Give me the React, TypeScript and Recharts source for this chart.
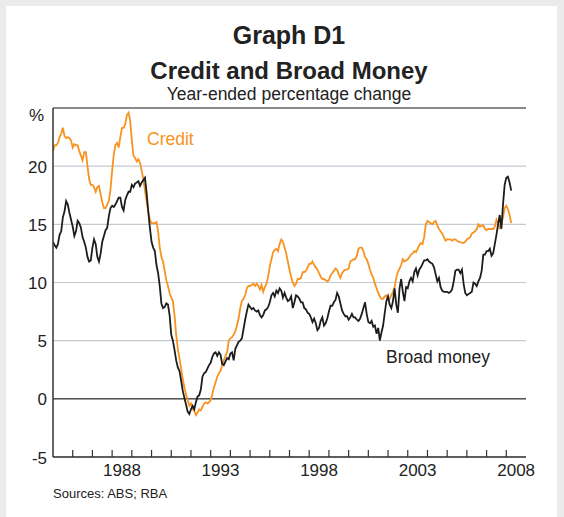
import { LineChart, Line, XAxis, YAxis, CartesianGrid, ReferenceLine } from 'recharts';

// Monthly, year-ended % change, starting January 1985
const START_YEAR = 1985;

const creditValues = [
  21.3, 21.8, 21.8, 22.0, 22.5, 22.8, 23.3, 22.6, 22.4, 22.5, 22.4, 22.2, // 1985
  21.6, 21.9, 21.8, 21.8, 21.3, 20.9, 20.5, 21.2, 21.2, 20.0, 18.9, 18.4, // 1986
  18.4, 18.2, 17.8, 18.2, 18.3, 17.6, 16.9, 16.4, 16.4, 16.7, 17.0, 18.0, // 1987
  19.6, 21.0, 21.8, 22.0, 21.6, 22.5, 23.3, 23.3, 23.6, 24.4, 24.6, 23.9, // 1988
  22.2, 20.9, 20.7, 20.4, 20.6, 20.3, 19.6, 18.9, 17.9, 17.0, 16.1, 15.4, // 1989
  15.1, 15.1, 15.1, 15.2, 14.4, 13.0, 12.2, 11.8, 11.0, 10.2, 9.7, 9.1, // 1990
  8.7, 8.4, 7.2, 5.5, 4.3, 3.5, 2.6, 1.7, 1.0, 0.4, -0.1, -0.6, // 1991
  -0.4, -0.9, -1.0, -1.4, -1.2, -0.9, -1.0, -0.7, -0.4, -0.3, -0.4, -0.3, // 1992
  -0.1, 0.4, 1.0, 1.4, 1.9, 2.2, 2.4, 2.9, 3.3, 3.7, 4.0, 5.0, // 1993
  5.2, 5.3, 5.5, 5.8, 6.3, 6.9, 7.8, 8.4, 8.6, 8.9, 9.5, 9.7, // 1994
  9.7, 9.8, 9.9, 9.7, 9.9, 9.7, 9.4, 9.8, 9.2, 9.6, 9.9, 10.5, // 1995
  11.4, 12.0, 12.6, 12.8, 12.9, 12.7, 13.3, 13.7, 13.5, 13.0, 12.5, 11.8, // 1996
  11.1, 10.5, 10.0, 9.7, 9.9, 10.3, 10.3, 10.4, 10.9, 10.9, 11.0, 11.3, // 1997
  11.6, 11.6, 11.8, 11.5, 11.3, 11.1, 10.8, 10.5, 10.3, 10.3, 10.2, 10.1, // 1998
  10.2, 10.6, 10.8, 11.0, 11.2, 11.1, 10.7, 10.4, 10.8, 11.0, 11.1, 11.1, // 1999
  11.2, 11.8, 11.9, 12.0, 12.0, 12.3, 12.9, 13.0, 13.0, 12.7, 12.2, 12.0, // 2000
  11.6, 11.1, 10.7, 10.4, 9.9, 9.5, 9.1, 8.8, 8.6, 8.6, 8.8, 8.9, // 2001
  8.6, 8.6, 8.9, 9.2, 9.6, 10.4, 10.9, 11.2, 11.5, 12.0, 11.8, 11.9, // 2002
  12.0, 12.2, 12.4, 12.5, 12.7, 12.6, 12.9, 13.2, 13.4, 13.3, 13.9, 15.0, // 2003
  15.3, 15.2, 15.1, 15.0, 15.2, 15.3, 14.9, 14.6, 14.4, 14.2, 13.9, 13.6, // 2004
  13.7, 13.7, 13.7, 13.6, 13.7, 13.7, 13.6, 13.5, 13.5, 13.4, 13.4, 13.5, // 2005
  13.7, 13.8, 13.9, 14.2, 14.3, 14.4, 14.6, 15.0, 14.8, 14.9, 14.9, 14.6, // 2006
  14.5, 14.6, 14.6, 14.6, 14.6, 14.8, 15.4, 15.1, 14.7, 15.0, 15.6, 16.4, // 2007
  16.6, 16.3, 15.8, 15.1, // 2008
];

const broadMoneyValues = [
  13.5, 13.2, 13.0, 13.3, 14.1, 14.4, 15.6, 16.1, 17.0, 16.7, 16.0, 15.4, // 1985
  14.8, 14.0, 14.4, 15.3, 15.1, 14.7, 13.9, 13.5, 13.0, 12.2, 11.8, 11.9, // 1986
  13.0, 13.7, 13.3, 12.2, 11.8, 12.5, 13.5, 14.0, 14.5, 14.7, 15.7, 16.4, // 1987
  16.6, 16.5, 16.7, 17.0, 17.3, 17.3, 16.5, 16.2, 17.1, 17.5, 17.8, 17.8, // 1988
  18.4, 18.2, 18.5, 18.6, 18.7, 18.3, 18.6, 18.8, 19.0, 17.7, 16.1, 14.7, // 1989
  13.5, 13.0, 12.7, 11.5, 10.8, 9.7, 8.2, 7.8, 7.9, 8.2, 8.1, 7.2, // 1990
  5.5, 5.0, 4.2, 3.3, 2.7, 2.4, 1.6, 0.7, 0.1, -0.5, -1.1, -1.3, // 1991
  -0.9, -0.6, -0.9, -0.3, 0.2, 0.3, 0.8, 1.9, 2.2, 2.3, 2.6, 2.9, // 1992
  3.1, 3.6, 3.9, 4.0, 3.7, 4.0, 3.8, 3.0, 2.9, 3.2, 3.5, 3.4, // 1993
  3.9, 4.0, 3.3, 4.3, 4.6, 4.9, 5.0, 5.2, 6.0, 6.8, 7.5, 8.1, // 1994
  7.9, 7.7, 7.8, 7.6, 7.5, 7.6, 7.2, 7.0, 7.2, 7.6, 7.7, 7.9, // 1995
  8.3, 8.9, 9.1, 8.8, 9.3, 9.1, 9.5, 9.3, 8.7, 9.1, 8.7, 8.4, // 1996
  8.5, 8.8, 7.8, 8.3, 8.9, 8.8, 8.6, 8.3, 8.3, 7.8, 7.7, 7.4, // 1997
  7.3, 7.0, 6.6, 6.9, 6.5, 5.9, 6.1, 6.7, 7.0, 6.3, 6.5, 6.9, // 1998
  7.5, 8.0, 8.0, 8.3, 8.5, 9.1, 8.8, 8.2, 7.6, 7.3, 7.1, 7.1, // 1999
  6.8, 7.0, 7.3, 7.0, 7.0, 6.8, 6.7, 6.9, 7.3, 7.8, 8.3, 7.3, // 2000
  6.6, 6.5, 6.7, 6.2, 6.3, 5.6, 6.1, 5.0, 5.7, 6.3, 7.4, 8.4, // 2001
  8.8, 8.1, 7.8, 8.4, 9.5, 8.1, 7.4, 9.5, 10.3, 9.2, 8.4, 9.6, // 2002
  9.5, 10.1, 10.4, 10.1, 10.9, 11.2, 10.6, 11.1, 11.3, 11.6, 11.9, 11.9, // 2003
  12.0, 11.8, 11.7, 11.6, 11.3, 10.7, 10.1, 10.4, 9.6, 9.3, 9.2, 9.2, // 2004
  9.2, 9.1, 9.2, 9.4, 10.1, 11.0, 11.1, 11.1, 10.8, 11.1, 9.9, 9.1, // 2005
  8.9, 9.0, 9.1, 9.2, 10.0, 9.9, 9.7, 10.1, 10.4, 11.0, 12.4, 12.4, // 2006
  12.7, 12.7, 12.9, 12.3, 12.5, 13.3, 14.1, 15.0, 15.8, 14.6, 16.7, 18.4, // 2007
  19.0, 19.1, 18.6, 17.9, // 2008
];

const yTicks = [-5, 0, 5, 10, 15, 20, 25];
const yearMarks = [1986, 1987, 1988, 1989, 1990, 1991, 1992, 1993, 1994, 1995, 1996, 1997,
  1998, 1999, 2000, 2001, 2002, 2003, 2004, 2005, 2006, 2007, 2008];
const yearLabels = [1988, 1993, 1998, 2003, 2008];

const COLORS = {
  credit: '#f7931e',
  broad: '#1d1d1d',
  text: '#222222',
  grid: '#c4cad2',
  axis: '#333333',
};

const FONT = '"Liberation Sans", Arial, Helvetica, sans-serif';

const data = creditValues.map((c, i) => ({
  t: START_YEAR + i / 12,
  credit: c,
  broad: broadMoneyValues[i],
}));

// marks sit on year boundaries, labels sit mid-year
const xTicks = [...yearMarks, ...yearLabels.map((y) => y + 0.5)];

const XTick = ({ x, y, payload }: any) => {
  const v = payload.value;
  if (Number.isInteger(v)) {
    return <line x1={x} y1={y} x2={x} y2={y - 7} stroke={COLORS.axis} strokeWidth={1.2} />;
  }
  return (
    <text x={x} y={y + 19} textAnchor="middle" fontSize={17} fill={COLORS.text} fontFamily={FONT}>
      {Math.floor(v)}
    </text>
  );
};

const YTickLeft = ({ x, y, payload }: any) => (
  <text
    x={payload.value === 25 ? x - 9 : x - 6}
    y={payload.value === 25 ? y + 13 : y + 6.5}
    textAnchor="end"
    fontSize={17}
    fill={COLORS.text}
    fontFamily={FONT}
  >
    {payload.value === 25 ? '%' : payload.value}
  </text>
);

const YTickRight = ({ x, y, payload }: any) => (
  <text
    x={payload.value === 25 ? x + 9 : x + 7}
    y={payload.value === 25 ? y + 13 : y + 6.5}
    textAnchor="start"
    fontSize={17}
    fill={COLORS.text}
    fontFamily={FONT}
  >
    {payload.value === 25 ? '%' : payload.value}
  </text>
);

export default function App() {
  return (
    <div
      style={{
        position: 'absolute',
        left: 0,
        top: 0,
        width: 564,
        height: 517,
        background: '#ebebeb',
        fontFamily: FONT,
      }}
    >
      <div style={{ position: 'absolute', left: 6, top: 6, width: 551, height: 511, background: '#fff' }} />
      <div style={{ position: 'absolute', left: 0, top: 0 }}>
        <LineChart width={564} height={517} data={data} margin={{ top: 108, right: 38, bottom: 30, left: 0 }}>
          <CartesianGrid vertical={false} stroke={COLORS.grid} strokeWidth={1.2} />
          <XAxis
            dataKey="t"
            type="number"
            domain={[1985, 2009]}
            ticks={xTicks}
            allowDataOverflow
            interval={0}
            height={30}
            tickSize={0}
            tickMargin={0}
            tickLine={false}
            axisLine={{ stroke: COLORS.axis, strokeWidth: 1.5 }}
            tick={<XTick />}
          />
          <YAxis
            type="number"
            domain={[-5, 25]}
            ticks={yTicks}
            interval={0}
            width={53}
            tickSize={0}
            tickMargin={0}
            tickLine={false}
            axisLine={{ stroke: COLORS.axis, strokeWidth: 1.5 }}
            tick={<YTickLeft />}
          />
          <YAxis
            yAxisId="right"
            orientation="right"
            type="number"
            domain={[-5, 25]}
            ticks={yTicks}
            interval={0}
            width={0}
            tickSize={0}
            tickMargin={0}
            tickLine={false}
            axisLine={{ stroke: COLORS.axis, strokeWidth: 1.5 }}
            tick={<YTickRight />}
          />
          <ReferenceLine y={25} stroke="#8a8a8a" strokeWidth={2} />
          <ReferenceLine y={0} stroke="#555555" strokeWidth={1.5} />
          <Line
            type="linear"
            dataKey="credit"
            stroke={COLORS.credit}
            strokeWidth={1.8}
            dot={false}
            isAnimationActive={false}
          />
          <Line
            type="linear"
            dataKey="broad"
            stroke={COLORS.broad}
            strokeWidth={1.8}
            dot={false}
            isAnimationActive={false}
          />
        </LineChart>
      </div>
      <svg
        width={564}
        height={517}
        style={{ position: 'absolute', left: 0, top: 0, pointerEvents: 'none' }}
      >
        <g fontFamily={FONT} fill={COLORS.text}>
          <text x={289} y={44} textAnchor="middle" fontSize={25} fontWeight="bold">
            Graph D1
          </text>
          <text x={289} y={79} textAnchor="middle" fontSize={24} fontWeight="bold">
            Credit and Broad Money
          </text>
          <text x={289} y={100} textAnchor="middle" fontSize={17.5}>
            Year-ended percentage change
          </text>
          <text x={147} y={145} fontSize={17.5} fill={COLORS.credit}>
            Credit
          </text>
          <text x={386} y={363} fontSize={17.5}>
            Broad money
          </text>
          <text x={53} y={498} fontSize={13}>
            Sources: ABS; RBA
          </text>
        </g>
      </svg>
    </div>
  );
}
